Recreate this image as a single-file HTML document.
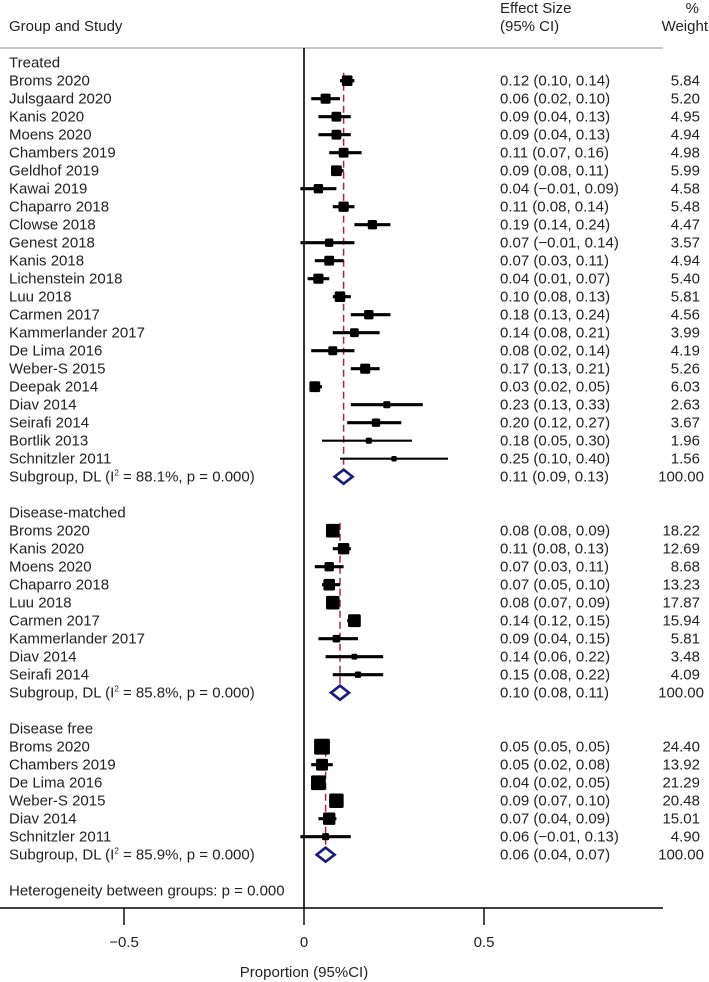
<!DOCTYPE html>
<html><head><meta charset="utf-8">
<style>
html,body{margin:0;padding:0;background:#fff;}
svg{display:block;font-family:"Liberation Sans",Arial,sans-serif;}
text{font-size:15px;fill:#222;}
</style></head>
<body>
<svg id="chart" width="709" height="982" viewBox="0 0 709 982">
<g>
<text x="9" y="31">Group and Study</text>
<text x="500" y="13">Effect Size</text>
<text x="500" y="31">(95% CI)</text>
<text x="699" y="13" text-anchor="end">%</text>
<text x="708" y="31" text-anchor="end">Weight</text>
<line x1="0" y1="48" x2="663" y2="48" stroke="#c8c8c8" stroke-width="2"/>
</g>
<g id="rows"></g>
<g id="axis"></g>
</svg>
<script>
const groupNames = ["Treated","Disease-matched","Disease free"];
const groupRowStart = [0,25,37];
const studyGroup = [0,0,0,0,0,0,0,0,0,0,0,0,0,0,0,0,0,0,0,0,0,0, 1,1,1,1,1,1,1,1,1, 2,2,2,2,2,2];
const studyLabels = ["Broms 2020","Julsgaard 2020","Kanis 2020","Moens 2020","Chambers 2019","Geldhof 2019","Kawai 2019","Chaparro 2018","Clowse 2018","Genest 2018","Kanis 2018","Lichenstein 2018","Luu 2018","Carmen 2017","Kammerlander 2017","De Lima 2016","Weber-S 2015","Deepak 2014","Diav 2014","Seirafi 2014","Bortlik 2013","Schnitzler 2011",
"Broms 2020","Kanis 2020","Moens 2020","Chaparro 2018","Luu 2018","Carmen 2017","Kammerlander 2017","Diav 2014","Seirafi 2014",
"Broms 2020","Chambers 2019","De Lima 2016","Weber-S 2015","Diav 2014","Schnitzler 2011"];
const studyES = [0.12,0.06,0.09,0.09,0.11,0.09,0.04,0.11,0.19,0.07,0.07,0.04,0.10,0.18,0.14,0.08,0.17,0.03,0.23,0.20,0.18,0.25,
0.08,0.11,0.07,0.07,0.08,0.14,0.09,0.14,0.15,
0.05,0.05,0.04,0.09,0.07,0.06];
const studyLo = [0.10,0.02,0.04,0.04,0.07,0.08,-0.01,0.08,0.14,-0.01,0.03,0.01,0.08,0.13,0.08,0.02,0.13,0.02,0.13,0.12,0.05,0.10,
0.08,0.08,0.03,0.05,0.07,0.12,0.04,0.06,0.08,
0.05,0.02,0.02,0.07,0.04,-0.01];
const studyHi = [0.14,0.10,0.13,0.13,0.16,0.11,0.09,0.14,0.24,0.14,0.11,0.07,0.13,0.24,0.21,0.14,0.21,0.05,0.33,0.27,0.30,0.40,
0.09,0.13,0.11,0.10,0.09,0.15,0.15,0.22,0.22,
0.05,0.08,0.05,0.10,0.09,0.13];
const studyWeight = [5.84,5.20,4.95,4.94,4.98,5.99,4.58,5.48,4.47,3.57,4.94,5.40,5.81,4.56,3.99,4.19,5.26,6.03,2.63,3.67,1.96,1.56,
18.22,12.69,8.68,13.23,17.87,15.94,5.81,3.48,4.09,
24.40,13.92,21.29,20.48,15.01,4.90];
const poolES = [0.11,0.10,0.06];
const poolLo = [0.09,0.08,0.04];
const poolHi = [0.13,0.11,0.07];
const poolI2 = ["88.1%","85.8%","85.9%"];
const xTicks = [-0.5,0,0.5];
const xTickLabels = ["\u22120.5","0","0.5"];

const NS="http://www.w3.org/2000/svg";
const X = v => 304 + v*360;
const rowY = i => 62.7 + i*18;
const fmt = v => (v<0?"\u2212":"")+Math.abs(v).toFixed(2);
const rows = document.getElementById('rows');
const axis = document.getElementById('axis');
function mk(tag, attrs, parent, txt){
  const e=document.createElementNS(NS,tag);
  for(const k in attrs) e.setAttribute(k,attrs[k]);
  if(txt!==undefined) e.textContent=txt;
  parent.appendChild(e); return e;
}
let nl = mk('line',{x1:X(0),y1:48,x2:X(0),y2:908,stroke:'#000','stroke-width':1.6},rows);



const scaleK=[4.4,3.2,3.2];
const counters=[0,0,0];
for(let g=0; g<3; g++){
  const y0=rowY(groupRowStart[g]);
  let t=mk('text',{x:9,y:y0+5},rows,groupNames[g]);
  
  
  const nStudies=studyGroup.filter(v=>v===g).length;
  const subY=rowY(groupRowStart[g]+nStudies+1);
  let dl=mk('line',{x1:X(poolES[g]),y1:y0+10,x2:X(poolES[g]),y2:subY,stroke:'#a8283a','stroke-width':1.5,'stroke-dasharray':'7,4'},rows);
  
  
}
for(let i=0;i<studyLabels.length;i++){
  const g=studyGroup[i];
  counters[g]++;
  const y=rowY(groupRowStart[g]+counters[g]);
  let lb=mk('text',{x:9,y:y+5},rows,studyLabels[i]);
  
  
  let ci=mk('line',{x1:X(studyLo[i]),y1:y,x2:X(studyHi[i]),y2:y,stroke:'#000','stroke-width':studyWeight[i]<2.5?2.2:3.2},rows);
  
  
  const s=Math.max(5,scaleK[g]*Math.sqrt(studyWeight[i]));
  let sq=mk('rect',{x:X(studyES[i])-s/2,y:y-s/2,width:s,height:s,rx:1.5,fill:'#000'},rows);
  
  
  let es=mk('text',{x:500,y:y+5},rows,studyES[i].toFixed(2)+" ("+fmt(studyLo[i])+", "+fmt(studyHi[i])+")");
  
  
  let w=mk('text',{x:700,y:y+5,'text-anchor':'end'},rows,studyWeight[i].toFixed(2));
  
  
}
for(let g=0;g<3;g++){
  const nStudies=studyGroup.filter(v=>v===g).length;
  const y=rowY(groupRowStart[g]+nStudies+1);
  const t=mk('text',{x:9,y:y+5},rows);
  
  
  t.appendChild(document.createTextNode("Subgroup, DL (I"));
  mk('tspan',{dy:-6,'font-size':'8'},t,"2");
  mk('tspan',{dy:6},t," = "+poolI2[g]+", p = 0.000)");
  const c=X(poolES[g]);
  const hw=Math.max(9,(X(poolHi[g])-X(poolLo[g]))/2);
  let d=mk('polygon',{points:`${c-hw},${y} ${c},${y-7} ${c+hw},${y} ${c},${y+7}`,fill:'#fff',stroke:'#1a1a80','stroke-width':2.6},rows);
  
  
  let es=mk('text',{x:500,y:y+5},rows,poolES[g].toFixed(2)+" ("+fmt(poolLo[g])+", "+fmt(poolHi[g])+")");
  
  
  let w=mk('text',{x:704,y:y+5,'text-anchor':'end'},rows,"100.00");
  
  
}
let het=mk('text',{x:9,y:rowY(46)+5},rows,"Heterogeneity between groups: p = 0.000");



let al=mk('line',{x1:0,y1:908,x2:663,y2:908,stroke:'#000','stroke-width':1.6},axis);


for(let i=0;i<xTicks.length;i++){
  let tk=mk('line',{x1:X(xTicks[i]),y1:908,x2:X(xTicks[i]),y2:925,stroke:'#000','stroke-width':1.4},axis);
  
  
  let tl=mk('text',{x:X(xTicks[i]),y:947,'text-anchor':'middle'},axis,xTickLabels[i]);
  
  
}
let at=mk('text',{x:X(0),y:977,'text-anchor':'middle'},axis,"Proportion (95%CI)");


</script>
</body></html>
